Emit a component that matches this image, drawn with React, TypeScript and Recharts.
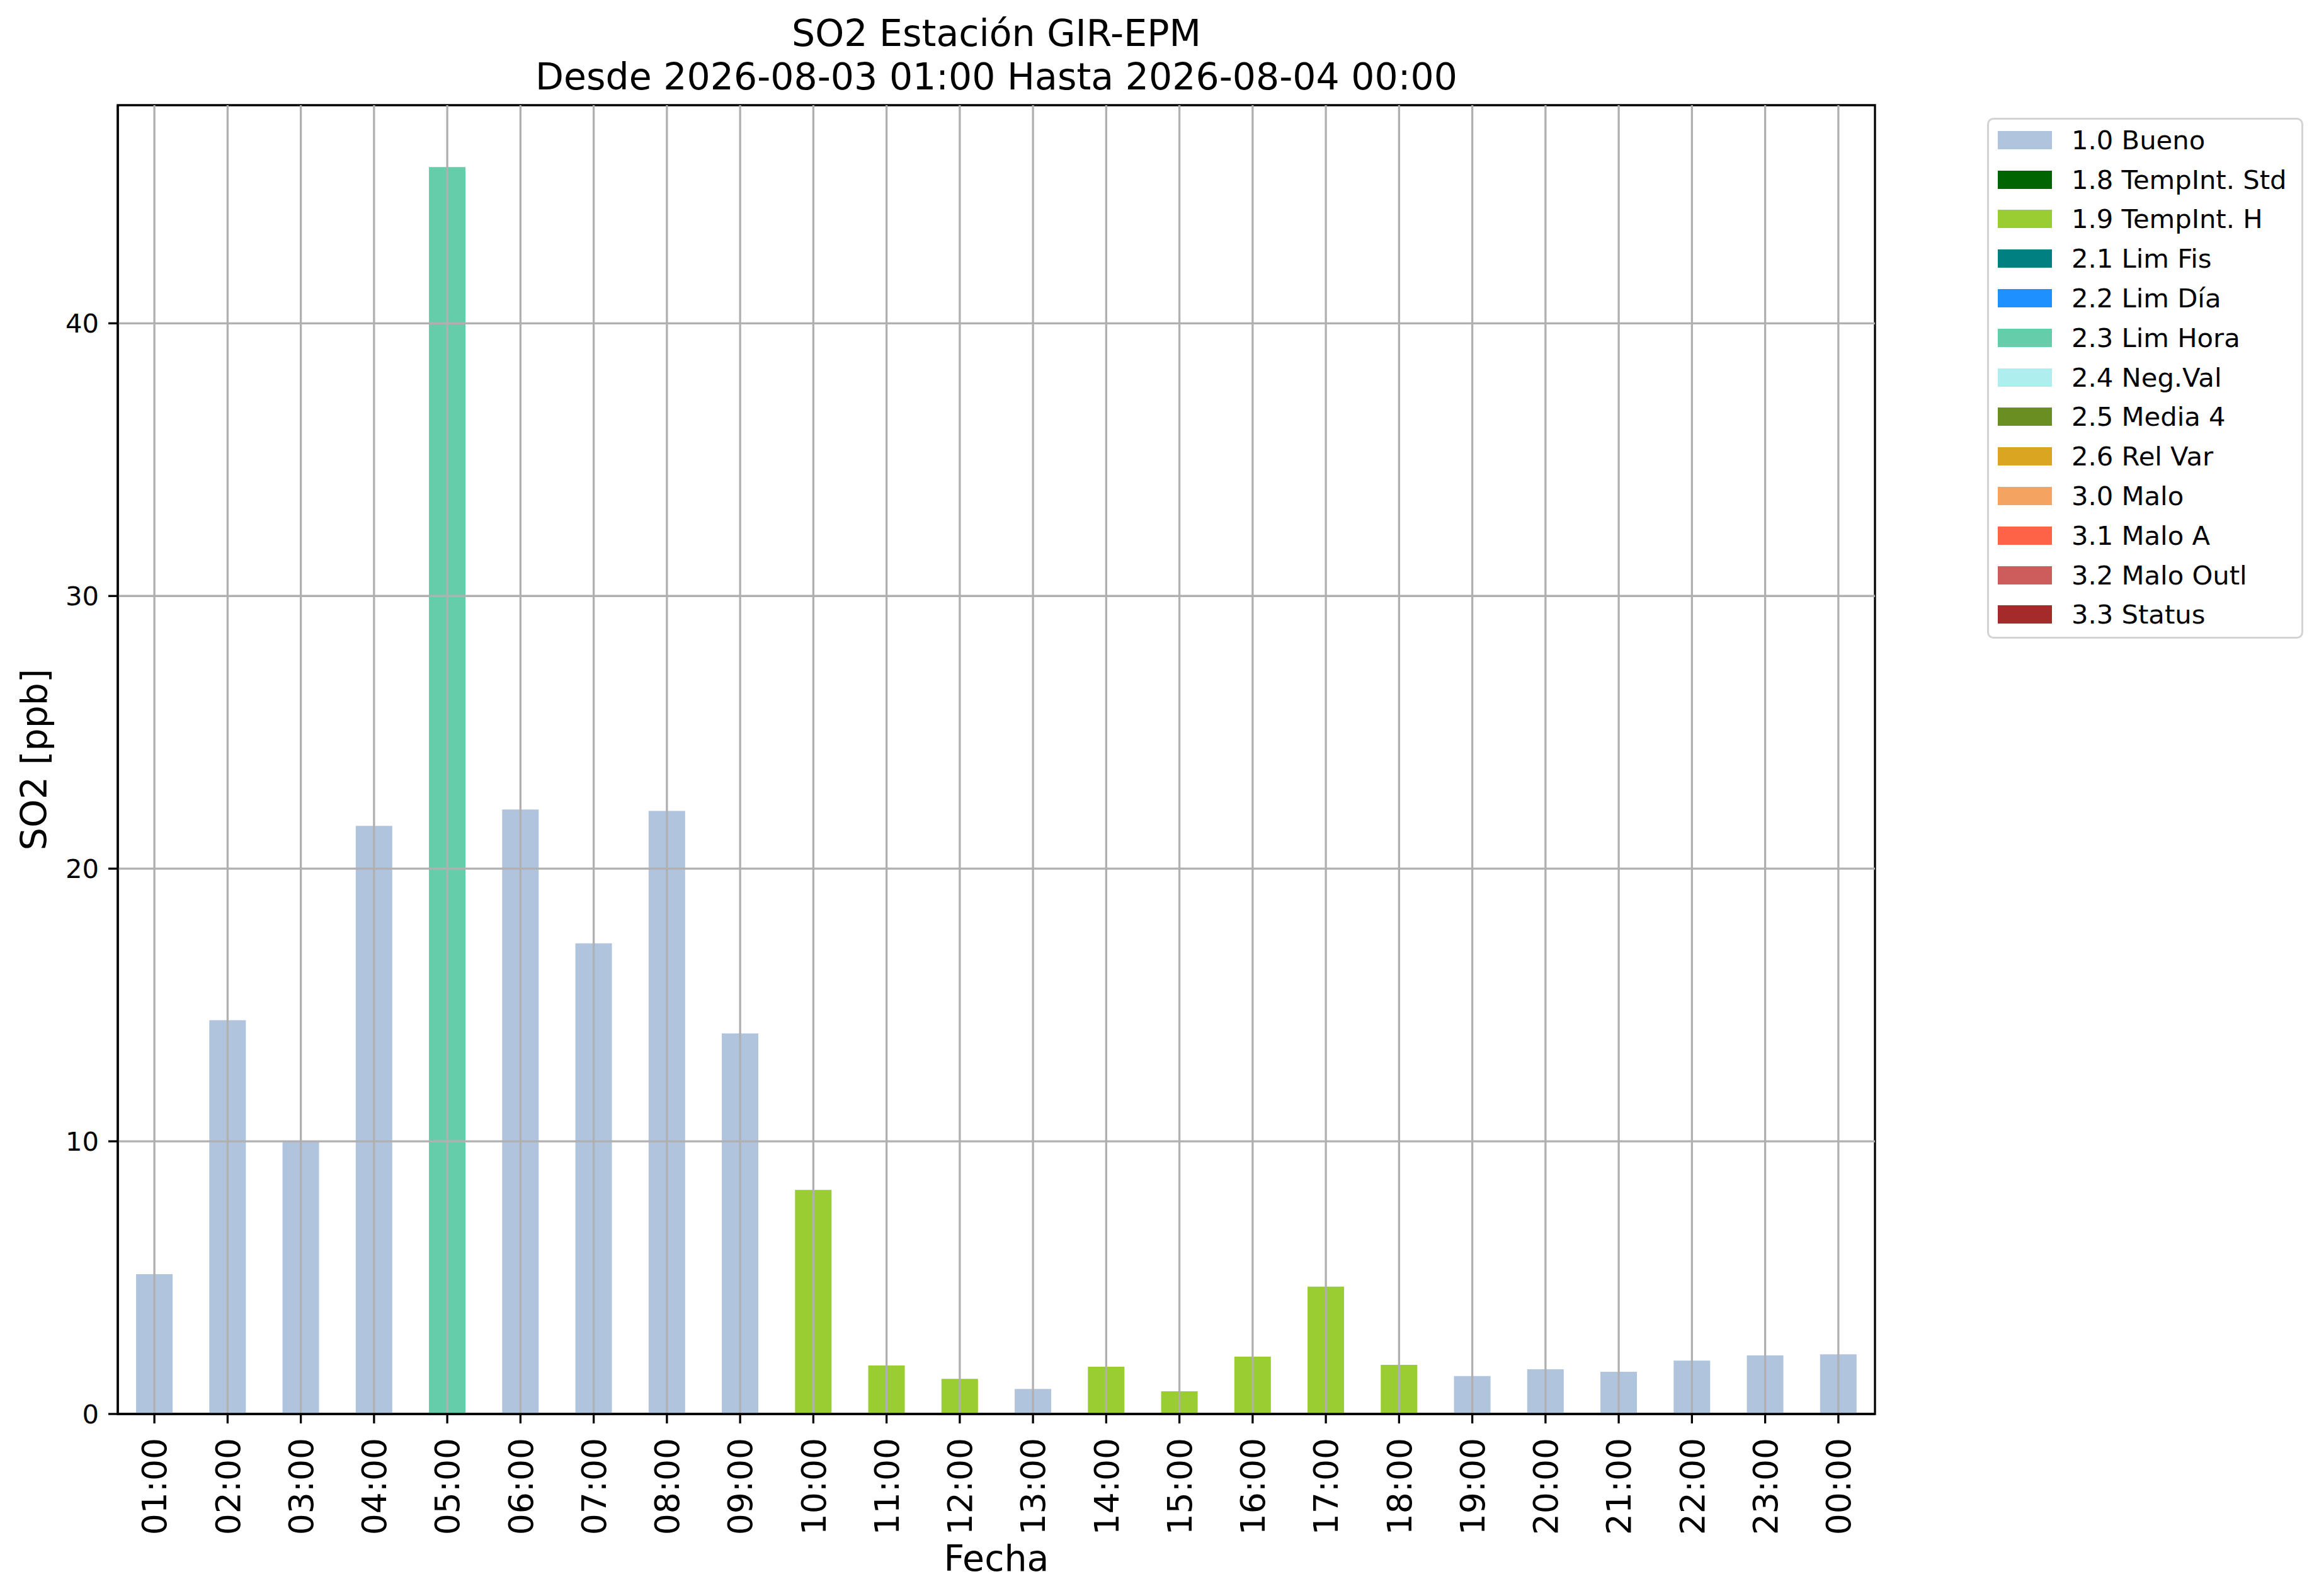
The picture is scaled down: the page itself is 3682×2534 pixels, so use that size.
import React from 'react';
import { BarChart, Bar, XAxis, YAxis, ReferenceLine, ReferenceArea } from 'recharts';

const hours = [
  '01:00', '02:00', '03:00', '04:00', '05:00', '06:00', '07:00', '08:00',
  '09:00', '10:00', '11:00', '12:00', '13:00', '14:00', '15:00', '16:00',
  '17:00', '18:00', '19:00', '20:00', '21:00', '22:00', '23:00', '00:00'
];

const so2 = [
  5.13, 14.44, 10.0, 21.57, 45.73, 22.17, 17.26, 22.12,
  13.96, 8.22, 1.78, 1.29, 0.92, 1.73, 0.83, 2.1,
  4.67, 1.8, 1.39, 1.64, 1.55, 1.96, 2.15, 2.19
];

const hourFlags = [
  '1.0', '1.0', '1.0', '1.0', '2.3', '1.0', '1.0', '1.0',
  '1.0', '1.9', '1.9', '1.9', '1.0', '1.9', '1.9', '1.9',
  '1.9', '1.9', '1.0', '1.0', '1.0', '1.0', '1.0', '1.0'
];

const flagCodes = ['1.0', '1.8', '1.9', '2.1', '2.2', '2.3', '2.4', '2.5', '2.6', '3.0', '3.1', '3.2', '3.3'];
const flagNames = [
  '1.0 Bueno', '1.8 TempInt. Std', '1.9 TempInt. H', '2.1 Lim Fis', '2.2 Lim Día',
  '2.3 Lim Hora', '2.4 Neg.Val', '2.5 Media 4', '2.6 Rel Var', '3.0 Malo',
  '3.1 Malo A', '3.2 Malo Outl', '3.3 Status'
];
const flagColors = [
  '#B0C4DE', '#006400', '#9ACD32', '#008080', '#1E90FF', '#66CDAA', '#AFEEEE',
  '#6B8E23', '#DAA520', '#F4A460', '#FF6347', '#CD5C5C', '#A52A2A'
];

const yTicks = [0, 10, 20, 30, 40];
const yMax = 48;

// one column per flag, so the bars stack like the pandas plot
const rows = hours.map((h, i) => {
  const row: Record<string, any> = { hour: h };
  flagCodes.forEach((c) => {
    if (hourFlags[i] === c) row[c] = so2[i];
  });
  return row;
});

const FONT = 'DejaVu Sans';
const LW = 3.3;

function HourTick(props: any) {
  const { x, y, payload } = props;
  return (
    <g transform={`translate(${x},${y})`}>
      <text
        transform="rotate(-90)"
        textAnchor="end"
        dy="0.36em"
        fontSize={53.5}
        fontFamily={FONT}
        fill="#000"
      >
        {payload.value}
      </text>
    </g>
  );
}

function FlagLegend() {
  return (
    <div
      style={{
        position: 'absolute',
        left: 3155,
        top: 187,
        width: 502,
        boxSizing: 'border-box',
        border: '3.3px solid #d3d3d3',
        borderRadius: 10,
        background: '#fff',
        padding: '1px 0 4px 14px',
        fontFamily: FONT,
        fontSize: 41.7,
        color: '#000'
      }}
    >
      {flagNames.map((name, i) => (
        <div key={name} style={{ height: 62.8, display: 'flex', alignItems: 'center' }}>
          <div style={{ width: 86, height: 29, background: flagColors[i], marginRight: 31 }} />
          <span style={{ whiteSpace: 'nowrap' }}>{name}</span>
        </div>
      ))}
    </div>
  );
}

export default function App() {
  return (
    <div style={{ position: 'absolute', left: 0, top: 0, width: 3682, height: 2534, background: '#fff' }}>
      <BarChart
        width={3682}
        height={2534}
        data={rows}
        margin={{ top: 167, right: 705, bottom: 89, left: 37 }}
        barCategoryGap="25%"
      >
        <XAxis
          dataKey="hour"
          height={200}
          interval={0}
          tick={<HourTick />}
          tickSize={15}
          tickMargin={23}
          tickLine={{ stroke: '#000', strokeWidth: LW }}
          axisLine={{ stroke: '#000', strokeWidth: LW }}
        />
        <YAxis
          type="number"
          domain={[0, yMax]}
          ticks={yTicks}
          allowDataOverflow
          width={150}
          tickSize={15}
          tickMargin={15}
          tick={{ fontSize: 41.7, fill: '#000', fontFamily: FONT }}
          tickLine={{ stroke: '#000', strokeWidth: LW }}
          axisLine={{ stroke: '#000', strokeWidth: LW }}
        />
        {flagCodes.map((c, i) => (
          <Bar key={c} dataKey={c} stackId="flag" fill={flagColors[i]} isAnimationActive={false} />
        ))}
        {yTicks.filter((t) => t > 0).map((t) => (
          <ReferenceLine key={'y' + t} y={t} stroke="#b0b0b0" strokeWidth={LW} />
        ))}
        {hours.map((h) => (
          <ReferenceLine key={'x' + h} x={h} stroke="#b0b0b0" strokeWidth={LW} />
        ))}
        {/* axes frame (matplotlib spines) */}
        <ReferenceArea
          x1={hours[0]}
          x2={hours[hours.length - 1]}
          y1={0}
          y2={yMax}
          fill="none"
          fillOpacity={0}
          stroke="#000"
          strokeWidth={LW}
        />
      </BarChart>

      <svg
        width={3682}
        height={2534}
        style={{ position: 'absolute', left: 0, top: 0, pointerEvents: 'none' }}
        fontFamily={FONT}
      >
        <text x={1582} y={73} textAnchor="middle" fontSize={58.5} fill="#000">
          SO2 Estación GIR-EPM
        </text>
        <text x={1582} y={142} textAnchor="middle" fontSize={58.5} fill="#000">
          Desde 2026-08-03 01:00 Hasta 2026-08-04 00:00
        </text>
        <text transform="translate(74,1206) rotate(-90)" textAnchor="middle" fontSize={57} fill="#000">
          SO2 [ppb]
        </text>
        <text x={1582} y={2494} textAnchor="middle" fontSize={57} fill="#000">
          Fecha
        </text>
      </svg>

      <FlagLegend />
    </div>
  );
}
